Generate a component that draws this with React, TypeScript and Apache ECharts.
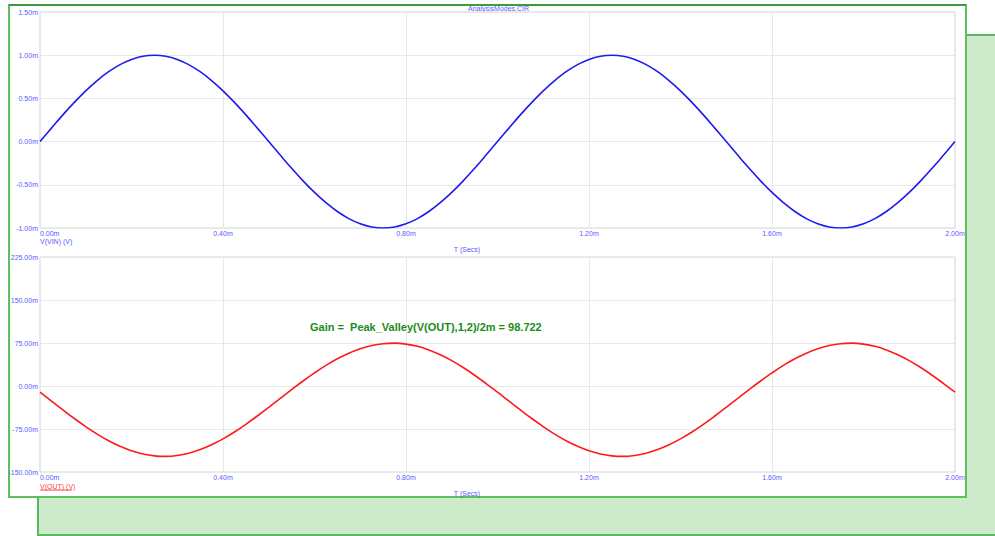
import React, { useEffect, useRef } from "react";
import * as echarts from "echarts";

// Transient analysis of AnalysisModes.CIR: time axis in ms, voltages in mV.
const TIME_STEP = 0.025; // ms between samples
const X_TICKS = [0, 0.4, 0.8, 1.2, 1.6, 2.0];

// V(VIN), mV
const vin = [
  0, 0.156, 0.309, 0.454, 0.588, 0.707, 0.809, 0.891, 0.951, 0.988,
  1.0, 0.988, 0.951, 0.891, 0.809, 0.707, 0.588, 0.454, 0.309, 0.156,
  0, -0.156, -0.309, -0.454, -0.588, -0.707, -0.809, -0.891, -0.951, -0.988,
  -1.0, -0.988, -0.951, -0.891, -0.809, -0.707, -0.588, -0.454, -0.309, -0.156,
  0, 0.156, 0.309, 0.454, 0.588, 0.707, 0.809, 0.891, 0.951, 0.988,
  1.0, 0.988, 0.951, 0.891, 0.809, 0.707, 0.588, 0.454, 0.309, 0.156,
  0, -0.156, -0.309, -0.454, -0.588, -0.707, -0.809, -0.891, -0.951, -0.988,
  -1.0, -0.988, -0.951, -0.891, -0.809, -0.707, -0.588, -0.454, -0.309, -0.156,
  0,
];

// V(OUT), mV
const vout = [
  -10.8, -26.3, -41.7, -56.7, -70.8, -83.9, -95.4, -105.2, -113.0, -118.6,
  -121.8, -122.7, -121.1, -117.2, -110.9, -102.5, -92.2, -80.2, -66.8, -52.3,
  -37.2, -21.7, -6.3, 8.7, 22.8, 35.9, 47.4, 57.2, 65.0, 70.6,
  73.8, 74.7, 73.1, 69.2, 62.9, 54.5, 44.2, 32.2, 18.8, 4.3,
  -10.8, -26.3, -41.7, -56.7, -70.8, -83.9, -95.4, -105.2, -113.0, -118.6,
  -121.8, -122.7, -121.1, -117.2, -110.9, -102.5, -92.2, -80.2, -66.8, -52.3,
  -37.2, -21.7, -6.3, 8.7, 22.8, 35.9, 47.4, 57.2, 65.0, 70.6,
  73.8, 74.7, 73.1, 69.2, 62.9, 54.5, 44.2, 32.2, 18.8, 4.3,
  -10.8,
];

const TITLE = "AnalysisModes.CIR";
const X_NAME = "T (Secs)";
const VIN_NAME = "V(VIN) (V)";
const VOUT_NAME = "V(OUT) (V)";
const GAIN_TEXT = "Gain =  Peak_Valley(V(OUT),1,2)/2m = 98.722";

const LABEL_BLUE = "#5a5aff";
const GRID_LINE = "#e8e8e8";
const FRAME = "#d4d4d4";
const SMALL_FONT = "'Liberation Sans', Arial, sans-serif";
const SMALL_SIZE = 7;
const GAIN_FONT = "'Liberation Sans', Arial, sans-serif";

const fmt = (v: number) => v.toFixed(2) + "m";

const toPairs = (ys: number[]) => ys.map((y, i) => [i * TIME_STEP, y]);

export default function App() {
  const ref = useRef<HTMLDivElement>(null);

  useEffect(() => {
    if (!ref.current) return;
    const chart = echarts.init(ref.current, undefined, { renderer: "svg" });

    const xAxisBase = (gridIndex: number) => ({
      type: "value" as const,
      gridIndex,
      min: X_TICKS[0],
      max: X_TICKS[X_TICKS.length - 1],
      interval: X_TICKS[1] - X_TICKS[0],
      axisLine: { show: false },
      axisTick: { show: false },
      splitLine: { show: true, lineStyle: { color: GRID_LINE, width: 1 } },
      axisLabel: {
        color: LABEL_BLUE,
        fontSize: SMALL_SIZE,
        lineHeight: 8,
        fontFamily: SMALL_FONT,
        margin: 1,
        formatter: fmt,
        alignMinLabel: "left",
        alignMaxLabel: "center",
      },
    });

    const yAxisBase = (gridIndex: number, min: number, max: number, interval: number) => ({
      type: "value" as const,
      gridIndex,
      min,
      max,
      interval,
      axisLine: { show: false },
      axisTick: { show: false },
      splitLine: { show: true, lineStyle: { color: GRID_LINE, width: 1 } },
      axisLabel: {
        color: LABEL_BLUE,
        fontSize: SMALL_SIZE,
        lineHeight: 8,
        fontFamily: SMALL_FONT,
        margin: 2,
        formatter: fmt,
      },
    });

    const textStyle = (color: string) => ({
      fill: color,
      fontSize: SMALL_SIZE,
      lineHeight: 8,
      fontFamily: SMALL_FONT,
    });

    chart.setOption({
      animation: false,
      backgroundColor: "#ffffff",
      grid: [
        { left: 40, top: 12, width: 915, height: 216, show: true, borderColor: FRAME, borderWidth: 1, backgroundColor: "transparent" },
        { left: 40, top: 257, width: 915, height: 215, show: true, borderColor: FRAME, borderWidth: 1, backgroundColor: "transparent" },
      ],
      xAxis: [xAxisBase(0), xAxisBase(1)],
      yAxis: [yAxisBase(0, -1, 1.5, 0.5), yAxisBase(1, -150, 225, 75)],
      series: [
        {
          type: "line",
          xAxisIndex: 0,
          yAxisIndex: 0,
          data: toPairs(vin),
          smooth: 0.4,
          showSymbol: false,
          lineStyle: { color: "#1c1cf0", width: 1.6 },
          z: 5,
        },
        {
          type: "line",
          xAxisIndex: 1,
          yAxisIndex: 1,
          data: toPairs(vout),
          smooth: 0.4,
          showSymbol: false,
          lineStyle: { color: "#ff1a1a", width: 1.6 },
          z: 5,
        },
      ],
      graphic: [
        // shadow panel behind the plot page
        {
          type: "rect",
          z: -10,
          shape: { x: 38, y: 35, width: 970, height: 500 },
          style: { fill: "#cdebcb", stroke: "#5cb85c", lineWidth: 2 },
        },
        // plot page
        {
          type: "rect",
          z: -9,
          shape: { x: 9, y: 5, width: 957, height: 492 },
          style: { fill: "#ffffff", stroke: "#5cbf5c", lineWidth: 2 },
        },
        {
          type: "line",
          z: -8,
          shape: { x1: 9, y1: 5, x2: 966, y2: 5 },
          style: { stroke: "#3c9c3c", lineWidth: 2 },
        },
        {
          type: "text",
          x: 468,
          y: 8,
          style: { ...textStyle(LABEL_BLUE), text: TITLE, align: "left", verticalAlign: "middle" },
        },
        {
          type: "text",
          x: 40,
          y: 241.5,
          style: { ...textStyle(LABEL_BLUE), text: VIN_NAME, align: "left", verticalAlign: "middle" },
        },
        {
          type: "text",
          x: 467,
          y: 249,
          style: { ...textStyle(LABEL_BLUE), text: X_NAME, align: "center", verticalAlign: "middle" },
        },
        {
          type: "text",
          x: 40,
          y: 486,
          style: { ...textStyle("#ff4040"), text: VOUT_NAME, align: "left", verticalAlign: "middle" },
        },
        {
          type: "line",
          shape: { x1: 40, y1: 490, x2: 72, y2: 490 },
          style: { stroke: "#ff4040", lineWidth: 1 },
        },
        {
          type: "text",
          x: 467,
          y: 493,
          style: { ...textStyle(LABEL_BLUE), text: X_NAME, align: "center", verticalAlign: "middle" },
        },
        {
          type: "text",
          x: 310,
          y: 327,
          z: 10,
          style: {
            fill: "#1a8c1a",
            fontSize: 11,
            fontWeight: "bold",
            fontFamily: GAIN_FONT,
            text: GAIN_TEXT,
            align: "left",
            verticalAlign: "middle",
          },
        },
      ],
    });

    return () => chart.dispose();
  }, []);

  return (
    <div
      ref={ref}
      style={{ position: "fixed", left: 0, top: 0, width: 995, height: 536 }}
    />
  );
}
